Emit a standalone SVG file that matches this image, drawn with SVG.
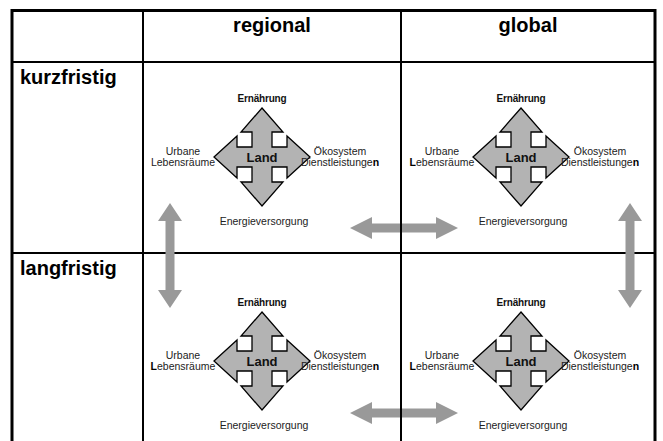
<svg xmlns="http://www.w3.org/2000/svg" width="663" height="441" viewBox="0 0 663 441">
<style>
.hdr{font-family:"Liberation Sans",Arial,sans-serif;font-size:20px;font-weight:bold;fill:#000}
.lbl{font-family:"Liberation Sans",Arial,sans-serif;font-size:10.5px;fill:#222}
.top{font-family:"Liberation Sans",Arial,sans-serif;font-size:10px;font-weight:bold;fill:#111;letter-spacing:-0.2px}
.land{font-family:"Liberation Sans",Arial,sans-serif;font-size:13px;font-weight:bold;fill:#111}
.b{font-weight:bold;fill:#000}
.grid{stroke:#000;fill:none}
.cross{fill:#b3b3b3;stroke:#000;stroke-width:1.3;stroke-linejoin:miter}
.conn{fill:#999}
</style>
<defs>
<polygon id="crossShape" class="cross" points="0,-49 21,-25 10,-25 10,-10 25,-10 25,-21 48,0 25,21 25,10 10,10 10,25 21,25 0,49 -21,25 -10,25 -10,10 -25,10 -25,21 -48,0 -25,-21 -25,-10 -10,-10 -10,-25 -21,-25"/>
</defs>
<rect width="663" height="441" fill="#fff"/>
<g id="grid-h">
<line class="grid" x1="11" y1="10.5" x2="656" y2="10.5" stroke-width="3"/>
<line class="grid" x1="11" y1="62" x2="655" y2="62" stroke-width="2"/>
<line class="grid" x1="11" y1="253" x2="655" y2="253" stroke-width="2"/>
</g>
<g id="headers">
<text class="hdr" x="272" y="32" text-anchor="middle">regional</text>
<text class="hdr" x="528" y="32" text-anchor="middle">global</text>
<text class="hdr" x="20" y="84">kurzfristig</text>
<text class="hdr" x="20" y="275">langfristig</text>
</g>
<g id="node-regional-kurz">
<use href="#crossShape" x="262" y="157"/>
<text class="land" x="262" y="162" text-anchor="middle">Land</text>
<text class="top" x="262" y="102" text-anchor="middle">Ernährung</text>
<text class="lbl" x="183" y="155" text-anchor="middle">Urbane</text>
<text class="lbl" x="183" y="166" text-anchor="middle">Lebensräume</text>
<text class="lbl" x="340" y="155" text-anchor="middle">Ökosystem</text>
<text class="lbl" x="340" y="166" text-anchor="middle">Dienstleistunge<tspan class="b">n</tspan></text>
<text class="lbl" x="264" y="225" text-anchor="middle">Energieversorgung</text>
</g>
<g id="node-global-kurz">
<use href="#crossShape" x="521" y="157"/>
<text class="land" x="521" y="162" text-anchor="middle">Land</text>
<text class="top" x="521" y="102" text-anchor="middle">Ernährung</text>
<text class="lbl" x="442" y="155" text-anchor="middle">Urbane</text>
<text class="lbl" x="442" y="166" text-anchor="middle"><tspan class="b">L</tspan>ebensräume</text>
<text class="lbl" x="600" y="155" text-anchor="middle">Ökosystem</text>
<text class="lbl" x="600" y="166" text-anchor="middle">Dienstleistunge<tspan class="b">n</tspan></text>
<text class="lbl" x="523" y="225" text-anchor="middle">Energieversorgung</text>
</g>
<g id="node-regional-lang">
<use href="#crossShape" x="262" y="361"/>
<text class="land" x="262" y="366" text-anchor="middle">Land</text>
<text class="top" x="262" y="306" text-anchor="middle">Ernährung</text>
<text class="lbl" x="183" y="359" text-anchor="middle">Urbane</text>
<text class="lbl" x="183" y="370" text-anchor="middle"><tspan class="b">L</tspan>ebensräume</text>
<text class="lbl" x="340" y="359" text-anchor="middle">Ökosystem</text>
<text class="lbl" x="340" y="370" text-anchor="middle">Dienstleistunge<tspan class="b">n</tspan></text>
<text class="lbl" x="264" y="429" text-anchor="middle">Energieversorgung</text>
</g>
<g id="node-global-lang">
<use href="#crossShape" x="521" y="361"/>
<text class="land" x="521" y="366" text-anchor="middle">Land</text>
<text class="top" x="521" y="306" text-anchor="middle">Ernährung</text>
<text class="lbl" x="442" y="359" text-anchor="middle">Urbane</text>
<text class="lbl" x="442" y="370" text-anchor="middle"><tspan class="b">L</tspan>ebensräume</text>
<text class="lbl" x="600" y="359" text-anchor="middle">Ökosystem</text>
<text class="lbl" x="600" y="370" text-anchor="middle">Dienstleistunge<tspan class="b">n</tspan></text>
<text class="lbl" x="523" y="429" text-anchor="middle">Energieversorgung</text>
</g>
<g id="connectors">
<polygon class="conn" points="170,203 182,221 174.5,221 174.5,290 182,290 170,308 158,290 165.5,290 165.5,221 158,221"/>
<polygon class="conn" points="630,203 642,221 634.5,221 634.5,290 642,290 630,308 618,290 625.5,290 625.5,221 618,221"/>
<polygon class="conn" points="350,228 372,217 372,223.5 436,223.5 436,217 458,228 436,239 436,232.5 372,232.5 372,239"/>
<polygon class="conn" points="350,413 372,402 372,408.5 436,408.5 436,402 458,413 436,424 436,417.5 372,417.5 372,424"/>
</g>
<g id="grid-v">
<line class="grid" x1="12" y1="9" x2="12" y2="441" stroke-width="3"/>
<line class="grid" x1="143" y1="9" x2="143" y2="441" stroke-width="2"/>
<line class="grid" x1="401" y1="9" x2="401" y2="441" stroke-width="2"/>
<line class="grid" x1="655" y1="9" x2="655" y2="441" stroke-width="3"/>
</g>
</svg>
